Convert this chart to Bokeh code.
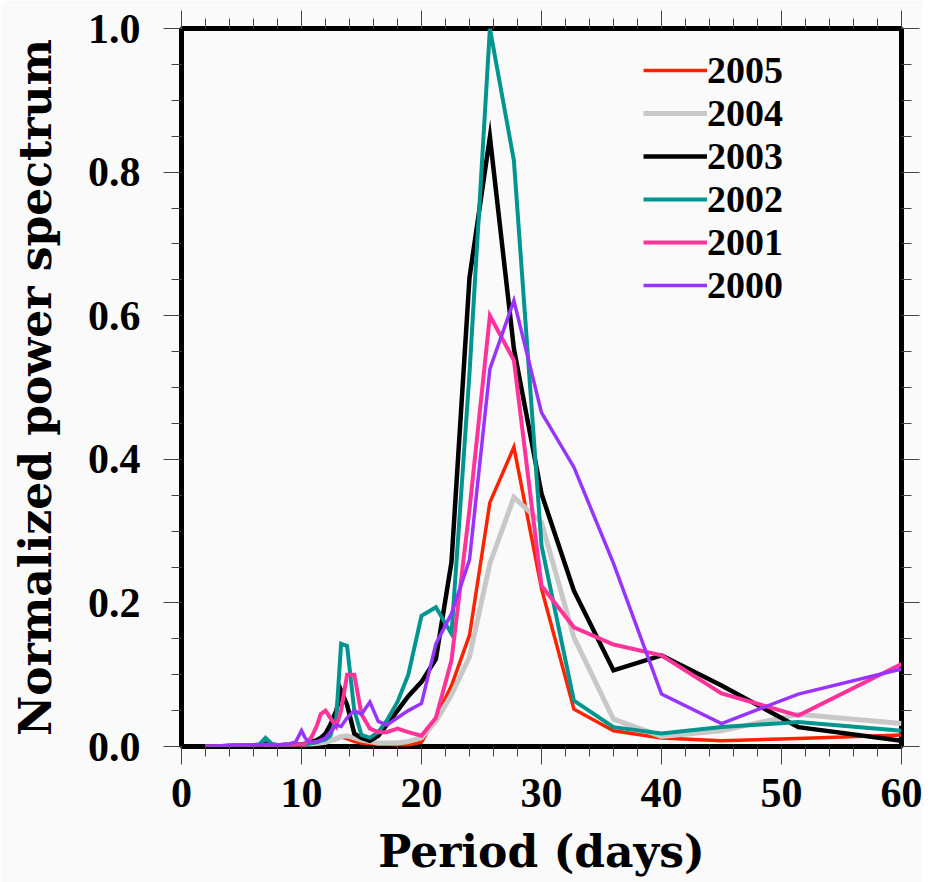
from bokeh.plotting import figure
from bokeh.models import (LinearAxis, Range1d, Legend, LegendItem,
                          SingleIntervalTicker, PrintfTickFormatter,
                          CustomJSTickFormatter)
from bokeh.embed import file_html
from bokeh.resources import INLINE

# Period (days)
period = [2, 3, 4, 5, 6, 6.5, 7, 7.5, 8, 8.5, 9, 9.5, 10,
          10.3, 10.6, 10.9, 11.3, 11.6, 12,
          12.4, 12.9, 13.3, 13.8, 14.4, 15,
          15.7, 16.4, 17.1, 18, 18.9, 20,
          21.2, 22.5, 24, 25.7, 27.7, 30,
          32.7, 36, 40, 45, 51.4, 60]

p2005 = [0, 0, 0, 0.001, 0.001, 0.002, 0.003, 0.001, 0.001, 0.001, 0.001, 0.002, 0.002,
         0.002, 0.003, 0.004, 0.004, 0.005, 0.006,
         0.008, 0.010, 0.013, 0.011, 0.007, 0.005,
         0.004, 0.003, 0.003, 0.002, 0.002, 0.006,
         0.040, 0.085, 0.155, 0.340, 0.417, 0.220,
         0.052, 0.022, 0.012, 0.008, 0.011, 0.016]

p2004 = [0, 0, 0, 0, 0.001, 0.001, 0.002, 0.001, 0.001, 0.001, 0.001, 0.001, 0.002,
         0.002, 0.003, 0.003, 0.004, 0.005, 0.006,
         0.008, 0.011, 0.014, 0.015, 0.012, 0.009,
         0.007, 0.005, 0.005, 0.005, 0.007, 0.012,
         0.035, 0.072, 0.125, 0.255, 0.347, 0.312,
         0.152, 0.038, 0.014, 0.022, 0.045, 0.032]

p2003 = [0, 0, 0.001, 0.001, 0.001, 0.002, 0.004, 0.002, 0.001, 0.002, 0.002, 0.002, 0.003,
         0.004, 0.005, 0.007, 0.009, 0.012, 0.018,
         0.030, 0.050, 0.078, 0.058, 0.018, 0.012,
         0.008, 0.015, 0.030, 0.050, 0.070, 0.090,
         0.122, 0.257, 0.653, 0.849, 0.554, 0.352,
         0.217, 0.106, 0.127, 0.085, 0.027, 0.008]

p2002 = [0, 0, 0, 0.001, 0.002, 0.003, 0.012, 0.004, 0.002, 0.002, 0.002, 0.003, 0.003,
         0.004, 0.004, 0.005, 0.006, 0.008, 0.010,
         0.015, 0.040, 0.143, 0.140, 0.050, 0.016,
         0.012, 0.020, 0.036, 0.062, 0.100, 0.182,
         0.194, 0.157, 0.520, 1.000, 0.816, 0.280,
         0.064, 0.027, 0.018, 0.027, 0.034, 0.022]

p2001 = [0, 0, 0, 0.001, 0.001, 0.001, 0.002, 0.001, 0.001, 0.001, 0.002, 0.002, 0.003,
         0.004, 0.008, 0.015, 0.030, 0.045, 0.050,
         0.040, 0.028, 0.050, 0.100, 0.100, 0.045,
         0.025, 0.020, 0.020, 0.025, 0.020, 0.015,
         0.040, 0.120, 0.330, 0.600, 0.538, 0.224,
         0.166, 0.142, 0.127, 0.074, 0.043, 0.115]

p2000 = [0, 0.001, 0.001, 0.002, 0.002, 0.002, 0.003, 0.002, 0.002, 0.003, 0.004, 0.006, 0.022,
         0.012, 0.006, 0.006, 0.007, 0.009, 0.012,
         0.020, 0.030, 0.028, 0.040, 0.050, 0.045,
         0.062, 0.035, 0.030, 0.040, 0.050, 0.060,
         0.143, 0.185, 0.260, 0.526, 0.621, 0.465,
         0.389, 0.255, 0.073, 0.032, 0.073, 0.108]

years = ["2005", "2004", "2003", "2002", "2001", "2000"]
series = [p2005, p2004, p2003, p2002, p2001, p2000]
colors = ["#FF2200", "#C8C8C8", "#000000", "#00958F", "#FF3399", "#9933FF"]
widths = [3.5, 5, 4.5, 4, 4, 3.5]

TICK_FONT = "Liberation Serif"
TITLE_FONT = "DejaVu Serif"
BG = "#FAFAFA"

p = figure(width=923, height=882, output_backend="svg", toolbar_location=None,
           x_range=Range1d(0, 60), y_range=Range1d(0, 1),
           min_border_left=181, min_border_right=22,
           min_border_top=28, min_border_bottom=136,
           background_fill_color=BG, border_fill_color=BG)

p.xgrid.visible = False
p.ygrid.visible = False
p.outline_line_color = "black"
p.outline_line_width = 5
p.outline_line_alpha = 1.0


def style_axis(ax, labels=True):
    ax.axis_line_color = None
    ax.major_tick_in = 0
    ax.minor_tick_in = 0
    ax.major_tick_out = 18
    ax.minor_tick_out = 10
    ax.major_tick_line_color = "#444444"
    ax.minor_tick_line_color = "#444444"
    ax.major_tick_line_width = 1
    ax.minor_tick_line_width = 1
    if labels:
        ax.major_label_text_font = TICK_FONT
        ax.major_label_text_font_style = "bold"
        ax.major_label_text_font_size = "42px"
        ax.major_label_text_color = "black"
    else:
        ax.formatter = CustomJSTickFormatter(code="return ''")
        ax.major_label_standoff = 0


xa = p.xaxis[0]
xa.ticker = SingleIntervalTicker(interval=10, num_minor_ticks=5)
style_axis(xa)
xa.major_label_standoff = 14
xa.axis_label = "Period (days)"
xa.axis_label_text_font = TITLE_FONT
xa.axis_label_text_font_style = "bold"
xa.axis_label_text_font_size = "44px"
xa.axis_label_text_color = "black"
xa.axis_label_standoff = 16

ya = p.yaxis[0]
ya.ticker = SingleIntervalTicker(interval=0.2, num_minor_ticks=4)
ya.formatter = PrintfTickFormatter(format="%.1f")
style_axis(ya)
ya.major_label_standoff = 23
ya.axis_label = "Normalized power spectrum"
ya.axis_label_text_font = TITLE_FONT
ya.axis_label_text_font_style = "bold"
ya.axis_label_text_font_size = "44px"
ya.axis_label_text_color = "black"
ya.axis_label_standoff = 24

top = LinearAxis(ticker=SingleIntervalTicker(interval=10, num_minor_ticks=5))
style_axis(top, labels=False)
p.add_layout(top, "above")

right = LinearAxis(ticker=SingleIntervalTicker(interval=0.2, num_minor_ticks=4))
style_axis(right, labels=False)
p.add_layout(right, "right")

# vertical offsets (px from frame bottom) of the one-row legends
legend_rows = [654, 611, 568, 525, 482, 439]

for yr, ys, c, w, vy in zip(years, series, colors, widths, legend_rows):
    r = p.line(period, ys, line_color=c, line_width=w, line_join="miter")
    lg = Legend(items=[LegendItem(label=yr, renderers=[r])], location=(462, vy),
                border_line_color=None, background_fill_alpha=0,
                padding=0, margin=0, spacing=0,
                glyph_width=64, glyph_height=38, label_height=38,
                label_standoff=0,
                label_text_font=TICK_FONT, label_text_font_style="bold",
                label_text_font_size="38px", label_text_color="black")
    p.add_layout(lg)

open("out.html", "w").write(file_html(p, INLINE))
